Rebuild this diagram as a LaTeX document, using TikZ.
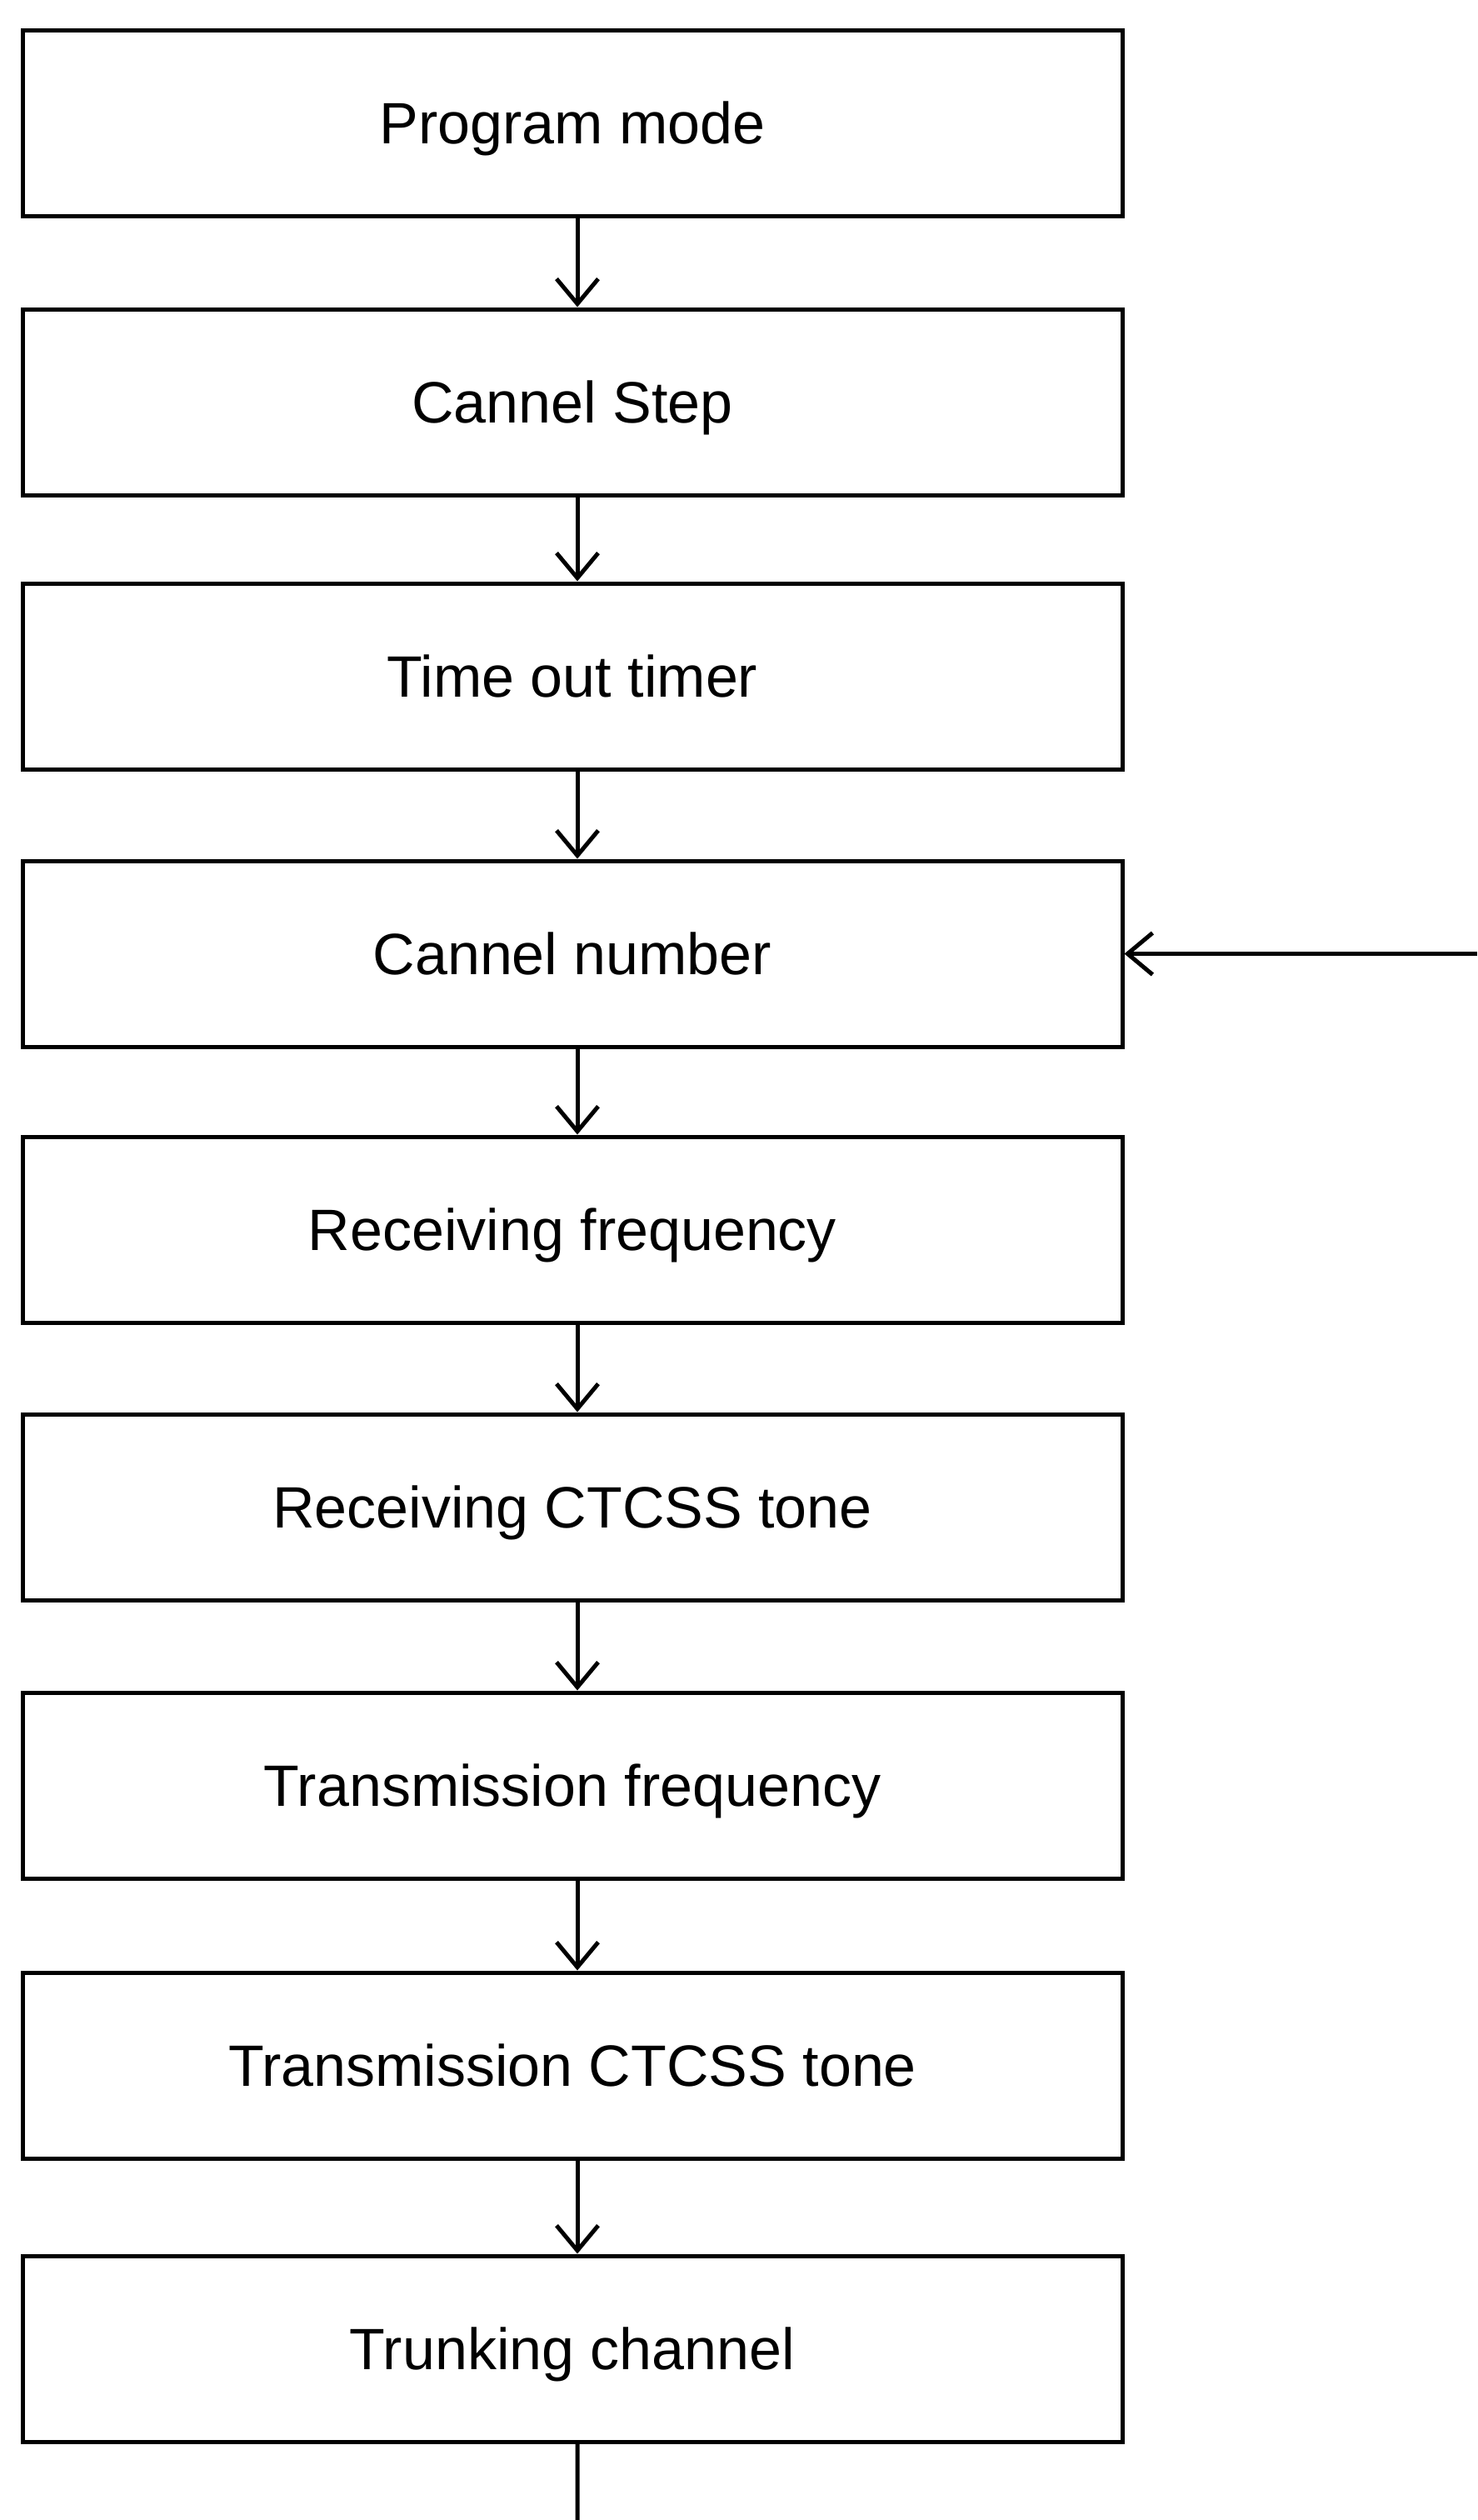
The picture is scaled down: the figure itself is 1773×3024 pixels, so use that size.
\documentclass[tikz,border=0pt]{standalone}
\usepackage{fontspec}
\setmainfont{Liberation Sans}
\usetikzlibrary{arrows.meta}
\begin{document}
\begin{tikzpicture}[x=0.3pt,y=-0.3pt,
  stepbox/.style={draw, line width=1.5pt, minimum width=396pt, minimum height=66.9pt,
    inner sep=0pt, text height=15pt, text depth=0pt,
    font=\fontsize{21}{25}\selectfont},
  flow/.style={line width=1.5pt, -{Straight Barb[length=9pt,width=15pt,line width=1.5pt]}}]
\useasboundingbox (0,0) rectangle (1773,3024);
\node[stepbox] (b1) at (687,147.5) {Program mode};
\node[stepbox] (b2) at (687,482.5) {Cannel Step};
\node[stepbox] (b3) at (687,811.5) {Time out timer};
\node[stepbox] (b4) at (687,1144.5) {Cannel number};
\node[stepbox] (b5) at (687,1475.5) {Receiving frequency};
\node[stepbox] (b6) at (687,1808.5) {Receiving CTCSS tone};
\node[stepbox] (b7) at (687,2142.5) {Transmission frequency};
\node[stepbox] (b8) at (687,2478.5) {Transmission CTCSS tone};
\node[stepbox] (b9) at (687,2818.5) {Trunking channel};
\coordinate (inR) at (1773,1144.5);
\coordinate (outB) at (693,3024);
\foreach \a/\b in {b1/b2,b2/b3,b3/b4,b4/b5,b5/b6,b6/b7,b7/b8,b8/b9}{
  \draw[flow] ([xshift=1.8pt]\a.south) -- ([xshift=1.8pt]\b.north);
}
\draw[flow] (inR) -- (b4.east);
\draw[line width=1.5pt] ([xshift=1.8pt]b9.south) -- (outB);
\end{tikzpicture}
\end{document}
